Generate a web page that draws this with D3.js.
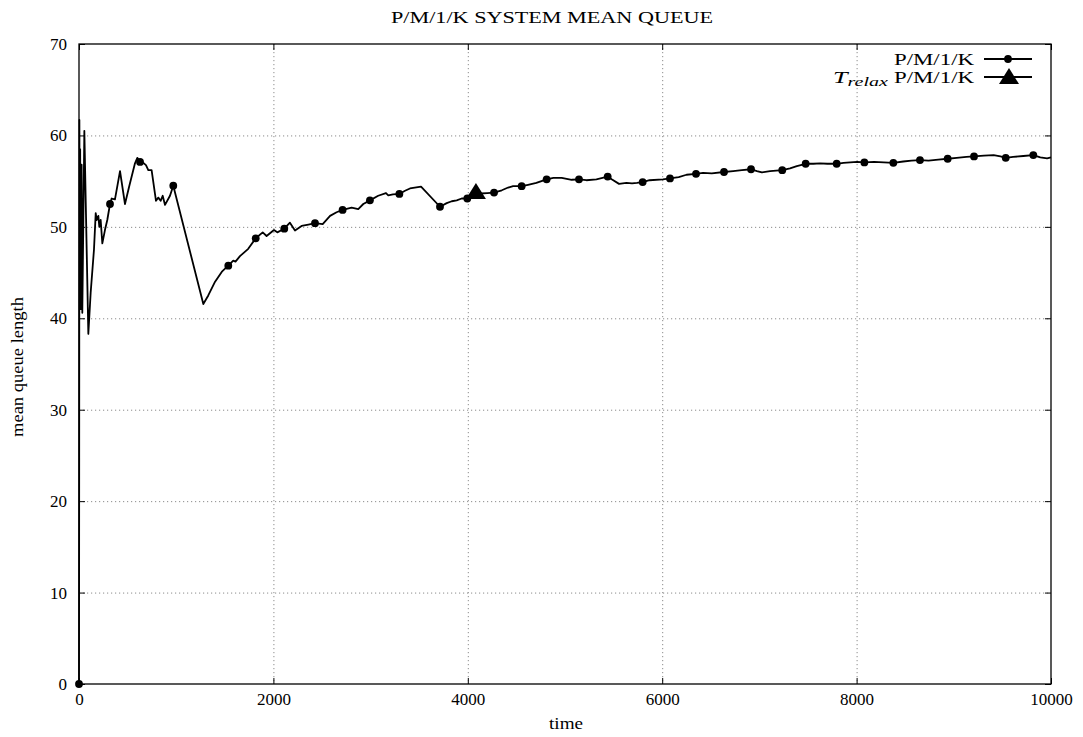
<!DOCTYPE html>
<html>
<head>
<meta charset="utf-8">
<script src="https://cdn.jsdelivr.net/npm/d3@7"></script>
<style>
  body { margin: 0; background: #fff; }
  svg { display: block; }
  text { font-family: "Liberation Serif", "Times New Roman", serif; fill: #000; }
</style>
</head>
<body>
<svg id="chart" width="1083" height="737"></svg>
<script>
// Simulation trace: running mean queue length vs. simulated time
const times = [
  0, 1, 2, 4, 8, 12, 18, 27, 34, 55, 96, 120, 154, 172, 182, 199, 209, 223, 240, 267, 291,
  319, 336, 370, 422, 473, 518, 576, 600, 628, 662, 689, 713, 747, 792, 816, 840, 861, 885, 936,
  970, 1279, 1330, 1400, 1470, 1536, 1587, 1610, 1656, 1741, 1818, 1890, 1930, 2006, 2040,
  2112, 2170, 2222, 2290, 2360, 2428, 2507, 2583, 2650, 2712, 2805, 2873, 2925, 2993, 3078,
  3158, 3182, 3230, 3296, 3354, 3405, 3519, 3714, 3783, 3835, 3886, 3937, 3995, 4080, 4130,
  4200, 4270, 4350, 4415, 4466, 4554, 4620, 4705, 4811, 4880, 4966, 5069, 5144, 5220, 5323,
  5439, 5480, 5556, 5632, 5690, 5740, 5799, 5870, 6008, 6080, 6170, 6250, 6348, 6420, 6510,
  6636, 6730, 6820, 6914, 6975, 7025, 7110, 7235, 7315, 7385, 7476, 7555, 7625, 7700, 7795,
  7865, 7935, 8005, 8080, 8180, 8280, 8378, 8480, 8565, 8652, 8740, 8840, 8937, 9030, 9130,
  9208, 9310, 9410, 9480, 9534, 9610, 9715, 9818, 9890, 9960, 10000
];
const meanQueue = [
  0, 11.2, 24.8, 61.7, 44.0, 58.5, 41.0, 56.8, 40.6, 60.5, 38.3, 42.8, 47.5, 51.5, 50.75, 51.2, 50.0, 50.75, 48.2, 49.65, 50.75,
  52.5, 53.1, 53.0, 56.1, 52.5, 54.5, 56.95, 57.55, 57.1, 57.0, 56.75, 56.2, 56.2, 52.85, 53.2, 52.85, 53.4, 52.4, 53.4,
  54.5, 41.56, 42.5, 44.0, 45.1, 45.75, 46.3, 46.2, 46.8, 47.6, 48.75, 49.4, 49.0, 49.65, 49.4,
  49.8, 50.45, 49.6, 50.1, 50.25, 50.4, 50.3, 51.2, 51.6, 51.85, 52.1, 51.95, 52.5, 52.9, 53.4,
  53.7, 53.45, 53.55, 53.6, 53.95, 54.2, 54.4, 52.2, 52.6, 52.8, 52.9, 53.1, 53.1, 53.75, 53.65,
  53.7, 53.75, 54.0, 54.3, 54.45, 54.45, 54.6, 54.8, 55.2, 55.35, 55.35, 55.15, 55.2, 55.1, 55.2,
  55.5, 55.2, 54.7, 54.8, 54.75, 54.8, 54.9, 55.1, 55.2, 55.3, 55.45, 55.7, 55.8, 55.9, 55.85,
  56.0, 56.1, 56.2, 56.3, 56.1, 55.95, 56.1, 56.2, 56.4, 56.65, 56.9, 56.9, 56.95, 56.9, 56.9,
  57.0, 57.05, 57.1, 57.05, 57.1, 57.05, 57.0, 57.15, 57.25, 57.3, 57.25, 57.35, 57.45, 57.55, 57.65,
  57.7, 57.8, 57.85, 57.7, 57.55, 57.65, 57.75, 57.85, 57.6, 57.5, 57.6
];
// Samples that carry a point marker
const markerTimes = [
  0, 319, 628, 970, 1536, 1818, 2112, 2428, 2712, 2993, 3296, 3714, 3995, 4270, 4554, 4811,
  5144, 5439, 5799, 6080, 6348, 6636, 6914, 7235, 7476, 7795, 8080, 8378, 8652, 8937, 9208,
  9534, 9818
];
// Relaxation time estimate
const relaxTimes = [4084];
const relaxValues = [53.8];

const xTicks = [0, 2000, 4000, 6000, 8000, 10000];
const yTicks = [0, 10, 20, 30, 40, 50, 60, 70];
const titleText = "P/M/1/K SYSTEM MEAN QUEUE";
const xLabel = "time";
const yLabel = "mean queue length";
const seriesName = "P/M/1/K";

const svg = d3.select("#chart");
const plotL = 79, plotR = 1051, plotT = 44, plotB = 684;

const x = d3.scaleLinear().domain([0, 10000]).range([plotL, plotR]);
const y = d3.scaleLinear().domain([0, 70]).range([plotB, plotT]);

const series = times.map((t, i) => ({ t, v: meanQueue[i] }));
const byTime = new Map(series.map(d => [d.t, d]));
const markers = markerTimes.map(t => byTime.get(t));
const relax = relaxTimes.map((t, i) => ({ t, v: relaxValues[i] }));

// dotted grid
const grid = svg.append("g").attr("stroke", "#8c8c8c").attr("stroke-width", 1)
  .attr("stroke-dasharray", "1.2,2.8");
grid.selectAll("line.gx").data(xTicks.slice(1, -1)).join("line")
  .attr("x1", d => x(d) + 0.5).attr("x2", d => x(d) + 0.5)
  .attr("y1", plotT).attr("y2", plotB);
grid.selectAll("line.gy").data(yTicks.slice(1, -1)).join("line")
  .attr("x1", plotL).attr("x2", plotR)
  .attr("y1", d => y(d) + 0.5).attr("y2", d => y(d) + 0.5);

// axes with inward ticks on all four sides
const plain = d3.format("d");
function styleAxis(g) {
  g.select(".domain").remove();
  g.selectAll(".tick line").attr("stroke", "#000").attr("stroke-width", 1);
  g.selectAll(".tick text").attr("font-size", 17).attr("font-family", "Liberation Serif, serif");
}
svg.append("g").attr("transform", `translate(0,${plotB})`)
  .call(d3.axisBottom(x).tickValues(xTicks).tickFormat(plain)
    .tickSizeInner(-6).tickSizeOuter(0).tickPadding(9))
  .call(styleAxis);
svg.append("g").attr("transform", `translate(${plotL},0)`)
  .call(d3.axisLeft(y).tickValues(yTicks).tickFormat(plain)
    .tickSizeInner(-6).tickSizeOuter(0).tickPadding(12))
  .call(styleAxis);
svg.append("g").attr("transform", `translate(0,${plotT})`)
  .call(d3.axisTop(x).tickValues(xTicks).tickSizeInner(-6).tickSizeOuter(0).tickFormat(""))
  .call(styleAxis);
svg.append("g").attr("transform", `translate(${plotR},0)`)
  .call(d3.axisRight(y).tickValues(yTicks).tickSizeInner(-6).tickSizeOuter(0).tickFormat(""))
  .call(styleAxis);

// plot border
svg.append("rect").attr("x", plotL).attr("y", plotT)
  .attr("width", plotR - plotL).attr("height", plotB - plotT)
  .attr("fill", "none").attr("stroke", "#000").attr("stroke-width", 1.3);

// series line
const line = d3.line().x(d => x(d.t)).y(d => y(d.v));
svg.append("path").datum(series)
  .attr("d", line).attr("fill", "none")
  .attr("stroke", "#000").attr("stroke-width", 1.8).attr("stroke-linejoin", "round");

svg.append("g").selectAll("circle").data(markers).join("circle")
  .attr("cx", d => x(d.t)).attr("cy", d => y(d.v)).attr("r", 3.9).attr("fill", "#000");

const triPath = "M0,-9L10,7L-10,7Z";
svg.append("g").selectAll("path").data(relax).join("path")
  .attr("transform", d => `translate(${x(d.t)},${y(d.v)})`)
  .attr("d", triPath).attr("fill", "#000");

// title and axis labels
svg.append("text").attr("x", 552).attr("y", 23).attr("text-anchor", "middle")
  .attr("font-size", 17).attr("textLength", 322).attr("lengthAdjust", "spacingAndGlyphs")
  .text(titleText);
svg.append("text").attr("x", 566).attr("y", 729).attr("text-anchor", "middle")
  .attr("font-size", 17).attr("textLength", 34).attr("lengthAdjust", "spacingAndGlyphs")
  .text(xLabel);
svg.append("text").attr("transform", "translate(23,367) rotate(-90)")
  .attr("text-anchor", "middle").attr("font-size", 17)
  .attr("textLength", 140).attr("lengthAdjust", "spacingAndGlyphs")
  .text(yLabel);

// legend
const key = svg.append("g");
const rowY = [59, 77];
key.append("text").attr("x", 974).attr("y", rowY[0] + 6).attr("text-anchor", "end")
  .attr("font-size", 17).attr("textLength", 80).attr("lengthAdjust", "spacingAndGlyphs")
  .text(seriesName);
key.append("line").attr("x1", 984).attr("x2", 1032).attr("y1", rowY[0]).attr("y2", rowY[0])
  .attr("stroke", "#000").attr("stroke-width", 1.8);
key.append("circle").attr("cx", 1008).attr("cy", rowY[0]).attr("r", 3.9).attr("fill", "#000");

key.append("text").attr("x", 974).attr("y", rowY[1] + 6).attr("text-anchor", "end")
  .attr("font-size", 17).attr("textLength", 80).attr("lengthAdjust", "spacingAndGlyphs")
  .text(seriesName);
const tr = key.append("text").attr("x", 888).attr("y", rowY[1] + 6).attr("text-anchor", "end")
  .attr("font-size", 17).attr("font-style", "italic")
  .attr("textLength", 55).attr("lengthAdjust", "spacingAndGlyphs");
tr.append("tspan").text("T");
tr.append("tspan").attr("font-size", 13).attr("dy", 3).text("relax");
key.append("line").attr("x1", 984).attr("x2", 1032).attr("y1", rowY[1]).attr("y2", rowY[1])
  .attr("stroke", "#000").attr("stroke-width", 1.8);
key.append("path").attr("transform", `translate(1009,${rowY[1]})`)
  .attr("d", triPath).attr("fill", "#000");
</script>
</body>
</html>
